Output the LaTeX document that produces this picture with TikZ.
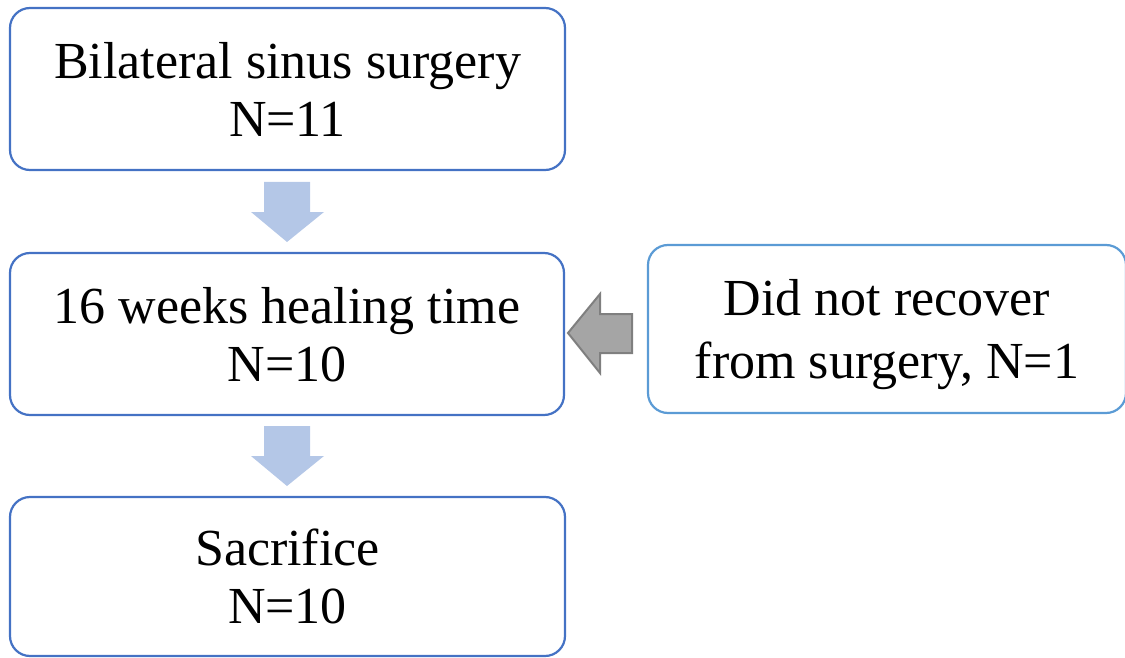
\documentclass[tikz,border=0pt]{standalone}
\usepackage{fontspec}
\setmainfont{Liberation Serif}
\definecolor{boxblue}{HTML}{4472C4}
\definecolor{boxlight}{HTML}{5B9BD5}
\definecolor{arrowblue}{HTML}{B4C7E7}
\definecolor{arrowgray}{HTML}{A5A5A5}
\definecolor{arrowedge}{HTML}{7F7F7F}
\tikzset{
  flowbox/.style={draw=boxblue, line width=2.2pt, rounded corners=20pt, align=center,
    inner sep=0pt, text depth=0pt, font=\fontsize{52}{58}\selectfont},
  sidebox/.style={flowbox, draw=boxlight, font=\fontsize{52}{63}\selectfont},
  downarrow/.style={fill=arrowblue, draw=none},
  leftarrow/.style={fill=arrowgray, draw=arrowedge, line width=2pt, line join=miter},
}
\begin{document}
\begin{tikzpicture}[x=1pt,y=-1pt]
\useasboundingbox (0,0) rectangle (1125,658);
\node[flowbox, minimum width=555pt, minimum height=162pt] (b1) at (287.5,89) {Bilateral sinus surgery\\N=11};
\node[flowbox, minimum width=554pt, minimum height=162pt] (b2) at (287,334) {16 weeks healing time\\N=10};
\node[flowbox, minimum width=555pt, minimum height=159pt] (b3) at (287.5,576.5) {Sacrifice\\N=10};
\node[sidebox, minimum width=478pt, minimum height=168pt] (b4) at (887,329) {Did not recover\\from surgery, N=1};
% down arrows
\path[downarrow] (264,182) -- (310,182) -- (310,212) -- (324,212) -- (287,242) -- (251,212) -- (264,212) -- cycle;
\path[downarrow] (264,426) -- (310,426) -- (310,456) -- (324,456) -- (287,486) -- (251,456) -- (264,456) -- cycle;
% left arrow
\path[leftarrow] (632,314) -- (600,314) -- (600,294) -- (568,333) -- (600,373) -- (600,353) -- (632,353) -- cycle;
\end{tikzpicture}
\end{document}
